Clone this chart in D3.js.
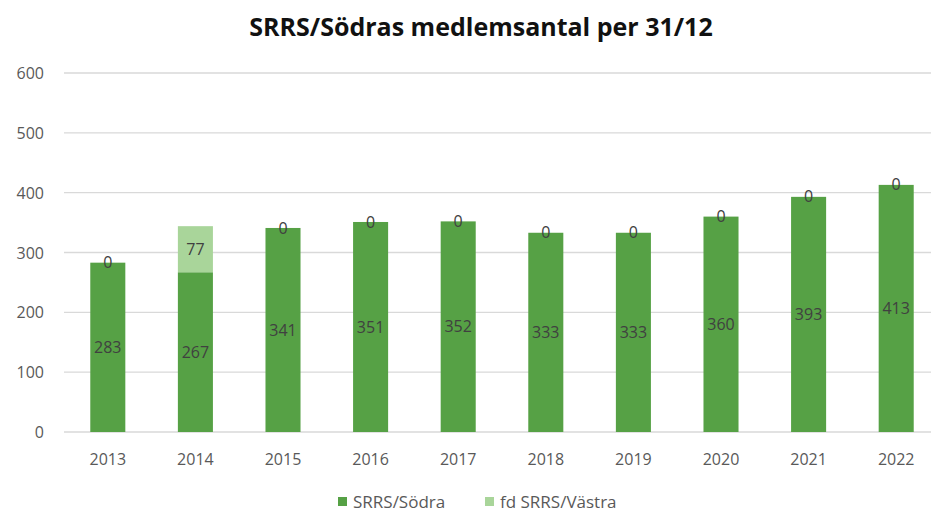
<!DOCTYPE html>
<html>
<head>
<meta charset="utf-8">
<script src="https://cdn.jsdelivr.net/npm/d3@7"></script>
<style>
  body { margin: 0; background: #fff; }
  text { font-family: "Open Sans", "Noto Sans", sans-serif; }
</style>
</head>
<body>
<div id="chart"></div>
<script>
var years = ["2013","2014","2015","2016","2017","2018","2019","2020","2021","2022"]
var sodra = [283, 267, 341, 351, 352, 333, 333, 360, 393, 413]
var vastra = [0, 77, 0, 0, 0, 0, 0, 0, 0, 0]
var yTicks = [0, 100, 200, 300, 400, 500, 600]
var seriesNames = ["SRRS/Södra", "fd SRRS/Västra"]
var colors = ["#56a145", "#a9d59a"]

var W = 931, H = 515
var svg = d3.select("#chart").append("svg").attr("width", W).attr("height", H)

var x = d3.scaleBand().domain(years).range([64, 940]).paddingInner(0.6).paddingOuter(0.3)
var y = d3.scaleLinear().domain([0, 600]).range([432, 73])

// title
svg.append("text").attr("x", 481).attr("y", 36).attr("text-anchor", "middle")
  .style("font-size", "25px").style("font-weight", "bold").attr("fill", "#111")
  .text("SRRS/Södras medlemsantal per 31/12")

// grid
svg.append("g").selectAll("line").data(yTicks).enter().append("line")
  .attr("x1", 64).attr("x2", 931)
  .attr("y1", function(d) {return y(d)}).attr("y2", function(d) {return y(d)})
  .attr("stroke", "#d9d9d9").attr("stroke-width", 1.3)

var yAxis = svg.append("g").attr("transform", "translate(44,0)")
  .call(d3.axisLeft(y).tickValues(yTicks).tickSize(0).tickPadding(0))
yAxis.select(".domain").remove()
yAxis.selectAll("text").style("font-size", "16px").attr("fill", "#595959")
  .style("font-family", "'Open Sans', sans-serif").attr("dy", "0.35em")

var xAxis = svg.append("g").attr("transform", "translate(0,432)")
  .call(d3.axisBottom(x).tickSize(0).tickPadding(22))
xAxis.select(".domain").remove()
xAxis.selectAll("text").style("font-size", "16px").attr("fill", "#595959")
  .style("font-family", "'Open Sans', sans-serif")

var table = years.map(function(yr, i) {return {year: yr, sodra: sodra[i], vastra: vastra[i]}})
var stacked = d3.stack().keys(["sodra", "vastra"])(table)

var layers = svg.selectAll("g.layer").data(stacked).enter().append("g").attr("class", "layer")
  .attr("fill", function(d, i) {return colors[i]})
layers.selectAll("rect").data(function(d) {return d}).enter().append("rect")
  .attr("x", function(d) {return x(d.data.year)})
  .attr("width", x.bandwidth())
  .attr("y", function(d) {return y(d[1])})
  .attr("height", function(d) {return y(d[0]) - y(d[1])})

// labels
layers.selectAll("text").data(function(d) {return d}).enter().append("text")
  .attr("x", function(d) {return x(d.data.year) + x.bandwidth() / 2})
  .attr("y", function(d) {return y((d[0] + d[1]) / 2)})
  .attr("dy", "0.35em").attr("text-anchor", "middle")
  .style("font-size", "16px").attr("fill", "#404040")
  .text(function(d) {return d[1] - d[0]})

// legend
var legend = svg.append("g").attr("transform", "translate(338,508)")
var lx = [0, 147]
seriesNames.forEach(function(n, i) {
  legend.append("rect").attr("x", lx[i]).attr("y", -11).attr("width", 9).attr("height", 9).attr("fill", colors[i])
  legend.append("text").attr("x", lx[i] + 15).attr("y", 0).style("font-size", "17px")
    .attr("fill", "#595959").text(n)
})
</script>
</body>
</html>
